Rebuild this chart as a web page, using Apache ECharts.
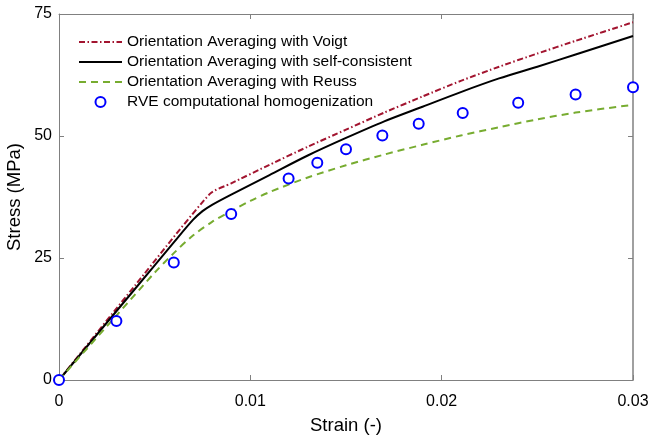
<!DOCTYPE html>
<html>
<head>
<meta charset="utf-8">
<script src="https://cdn.jsdelivr.net/npm/echarts@6/dist/echarts.min.js"></script>
<style>
html,body{margin:0;padding:0;background:#fff;}
#chart{width:653px;height:437px;}
</style>
</head>
<body>
<div id="chart"></div>
<script>
// ---- Data ----
const voigtStrain = [0, 0.004, 0.0079, 0.009, 0.011, 0.013, 0.015, 0.017, 0.019, 0.021, 0.023, 0.025, 0.027, 0.030];
const voigtStress = [0, 19.5, 38.2, 40.3, 44.1, 47.8, 51.3, 54.8, 58.1, 61.3, 64.2, 66.9, 69.5, 73.3];

const scStrain = [0, 0.004, 0.006, 0.007, 0.0075, 0.008, 0.009, 0.011, 0.013, 0.015, 0.017, 0.019, 0.021, 0.023, 0.025, 0.027, 0.030];
const scStress = [0, 18.8, 28.2, 32.8, 34.6, 35.9, 38.0, 42.0, 46.0, 49.6, 53.0, 56.0, 59.0, 61.8, 64.2, 66.7, 70.5];

const reussStrain = [0, 0.003, 0.005, 0.006, 0.007, 0.008, 0.009, 0.010, 0.011, 0.013, 0.015, 0.017, 0.019, 0.021, 0.023, 0.025, 0.027, 0.030];
const reussStress = [0, 13.2, 22.0, 26.0, 29.6, 32.4, 34.6, 36.7, 38.5, 41.5, 44.0, 46.2, 48.2, 50.1, 51.8, 53.4, 54.8, 56.4];

const rveStrain = [0, 0.003, 0.006, 0.009, 0.012, 0.0135, 0.015, 0.0169, 0.0188, 0.0211, 0.024, 0.027, 0.030];
const rveStress = [0, 12.1, 24.1, 34.0, 41.3, 44.5, 47.3, 50.1, 52.5, 54.7, 56.8, 58.5, 60.0];

const xTicks = [0, 0.01, 0.02, 0.03];
const yTicks = [0, 25, 50, 75];

const seriesNames = [
  'Orientation Averaging with Voigt',
  'Orientation Averaging with self-consistent',
  'Orientation Averaging with Reuss',
  'RVE computational homogenization'
];

function pairs(xs, ys){ return xs.map((x,i)=>[x, ys[i]]); }

const chart = echarts.init(document.getElementById('chart'), null, {renderer:'canvas'});
const FONT = 'Liberation Sans, Arial, Helvetica, sans-serif';
const AX = '#808080';

const xLabelFmt = v => {
  const r = Math.round(v*1000)/1000;
  return xTicks.indexOf(r) >= 0 ? String(r) : '';
};

const option = {
  animation: false,
  backgroundColor: '#fff',
  grid: {left: 59, right: 20, top: 14, bottom: 57, containLabel: false, outerBoundsMode: 'none'},
  legend: {
    orient: 'vertical',
    left: 78, top: 32, padding: 0,
    itemWidth: 43, itemHeight: 10, itemGap: 0,
    textStyle: {fontFamily: FONT, fontSize: 15.5, color: '#000', lineHeight: 20, height: 20},
    data: [
      {name: seriesNames[0], itemStyle: {opacity: 0}},
      {name: seriesNames[1], itemStyle: {opacity: 0}},
      {name: seriesNames[2], itemStyle: {opacity: 0}},
      {name: seriesNames[3]}
    ]
  },
  xAxis: [{
    type: 'value', min: 0, max: 0.03, interval: 0.01,
    name: 'Strain (-)', nameLocation: 'middle', nameGap: 36, nameMoveOverlap: false,
    nameTextStyle: {fontFamily: FONT, fontSize: 18.5, color: '#000'},
    axisLine: {show: true, onZero: false, lineStyle: {color: AX, width: 1}},
    axisTick: {show: true, inside: true, length: 5, lineStyle: {color: AX}},
    axisLabel: {fontFamily: FONT, fontSize: 16, color: '#000', margin: 14, formatter: xLabelFmt},
    splitLine: {show: false}
  },{
    type: 'value', min: 0, max: 0.03, interval: 0.01, position: 'top',
    axisLine: {show: true, onZero: false, lineStyle: {color: AX, width: 1}},
    axisTick: {show: true, inside: true, length: 5, lineStyle: {color: AX}},
    axisLabel: {show: false}, splitLine: {show: false}
  }],
  yAxis: [{
    type: 'value', min: 0, max: 75, interval: 25,
    name: 'Stress (MPa)', nameLocation: 'middle', nameGap: 35, nameMoveOverlap: false,
    nameTextStyle: {fontFamily: FONT, fontSize: 18.5, color: '#000'},
    axisLine: {show: true, onZero: false, lineStyle: {color: AX, width: 1}},
    axisTick: {show: true, inside: true, length: 5, lineStyle: {color: AX}},
    axisLabel: {fontFamily: FONT, fontSize: 16, color: '#000', margin: 7},
    splitLine: {show: false}
  },{
    type: 'value', min: 0, max: 75, interval: 25, position: 'right',
    axisLine: {show: true, onZero: false, lineStyle: {color: AX, width: 1.5}},
    axisTick: {show: true, inside: true, length: 5, lineStyle: {color: AX}},
    axisLabel: {show: false}, splitLine: {show: false}
  }],
  series: [
    {
      name: seriesNames[0], type: 'line', symbol: 'none', smooth: 0.2,
      data: pairs(voigtStrain, voigtStress),
      itemStyle: {color: '#a2142f'},
      lineStyle: {color: '#a2142f', width: 2, type: [6, 2.5, 1.5, 2.5]},
      z: 3
    },
    {
      name: seriesNames[1], type: 'line', symbol: 'none', smooth: 0.3,
      data: pairs(scStrain, scStress),
      itemStyle: {color: '#000'},
      lineStyle: {color: '#000', width: 2, type: 'solid'},
      z: 3
    },
    {
      name: seriesNames[2], type: 'line', symbol: 'none', smooth: 0.3,
      data: pairs(reussStrain, reussStress),
      itemStyle: {color: '#77ac30'},
      lineStyle: {color: '#77ac30', width: 2, type: [7, 5]},
      z: 3
    },
    {
      name: seriesNames[3], type: 'scatter', symbol: 'emptyCircle', symbolSize: 10,
      data: pairs(rveStrain, rveStress),
      itemStyle: {color: '#0000ff', borderColor: '#0000ff', borderWidth: 2, opacity: 1},
      z: 4
    }
  ]
};
chart.setOption(option);
</script>
</body>
</html>
